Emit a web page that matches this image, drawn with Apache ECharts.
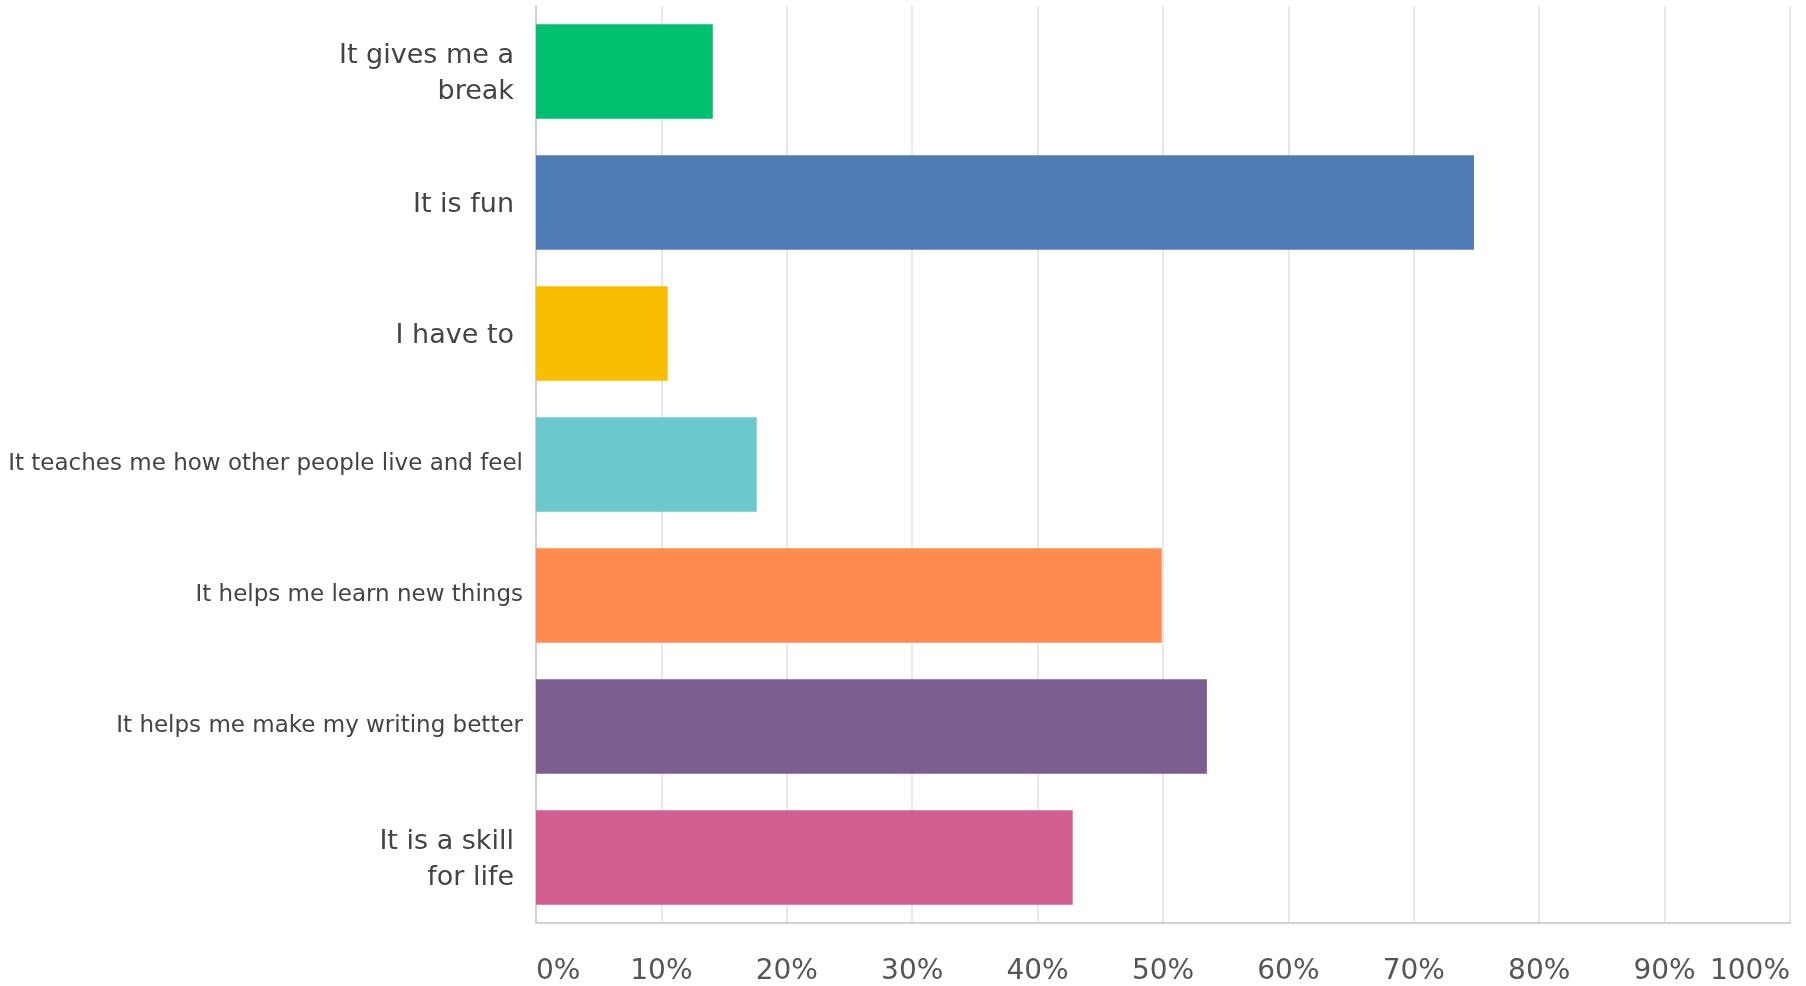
<!DOCTYPE html>
<html>
<head>
<meta charset="utf-8">
<script src="https://cdn.jsdelivr.net/npm/echarts@6/dist/echarts.min.js"></script>
<style>
html,body{margin:0;padding:0;background:#fff;}
#chart{width:1806px;height:986px;}
</style>
</head>
<body>
<div id="chart"></div>
<script>
const categories = [
  "It gives me a\nbreak",
  "It is fun",
  "I have to",
  "It teaches me how other people live and feel",
  "It helps me learn new things",
  "It helps me make my writing better",
  "It is a skill\nfor life"
];
const values = [14.1, 74.8, 10.5, 17.6, 49.9, 53.5, 42.8];
const barColors = ["#00BF6F", "#507CB6", "#F9BE00", "#6BC8CD", "#FF8B4F", "#7D5E90", "#D25F90"];
const xTicks = [0, 10, 20, 30, 40, 50, 60, 70, 80, 90, 100];

const chart = echarts.init(document.getElementById('chart'));
chart.setOption({
  animation: false,
  backgroundColor: '#fff',
  grid: { left: 536, right: 16, top: 6, bottom: 56, containLabel: false },
  xAxis: {
    type: 'value',
    min: xTicks[0],
    max: xTicks[xTicks.length - 1],
    interval: 10,
    axisLine: { show: true, lineStyle: { color: '#d2d2d2', width: 2 } },
    axisTick: { show: false },
    splitLine: { show: true, lineStyle: { color: '#e8e8e8', width: 2 } },
    axisLabel: {
      formatter: v => v + '%',
      color: '#555',
      fontFamily: 'DejaVu Sans',
      fontSize: 28,
      margin: 35,
      alignMinLabel: 'left',
      alignMaxLabel: 'right'
    }
  },
  yAxis: {
    type: 'category',
    data: categories,
    inverse: true,
    axisLine: { show: true, lineStyle: { color: '#d2d2d2', width: 2 } },
    axisTick: { show: false },
    splitLine: { show: false },
    axisLabel: {
      margin: 12,
      align: 'right',
      formatter: v => (v.length <= 22 ? '{big|' + v.split('\n').join('}\n{big|') + '}' : '{small|' + v + '}'),
      rich: {
        big: { fontFamily: 'DejaVu Sans', fontSize: 27, color: '#444', lineHeight: 36, align: 'right', padding: [4, 10, 0, 0] },
        small: { fontFamily: 'DejaVu Sans', fontSize: 23, color: '#444', align: 'right', padding: [0, 1, 0, 0] }
      }
    }
  },
  series: [{
    type: 'bar',
    data: values.map((v, i) => ({ value: v, itemStyle: { color: barColors[i] } })),
    barCategoryGap: '28%',
    silent: true
  }]
});
</script>
</body>
</html>
